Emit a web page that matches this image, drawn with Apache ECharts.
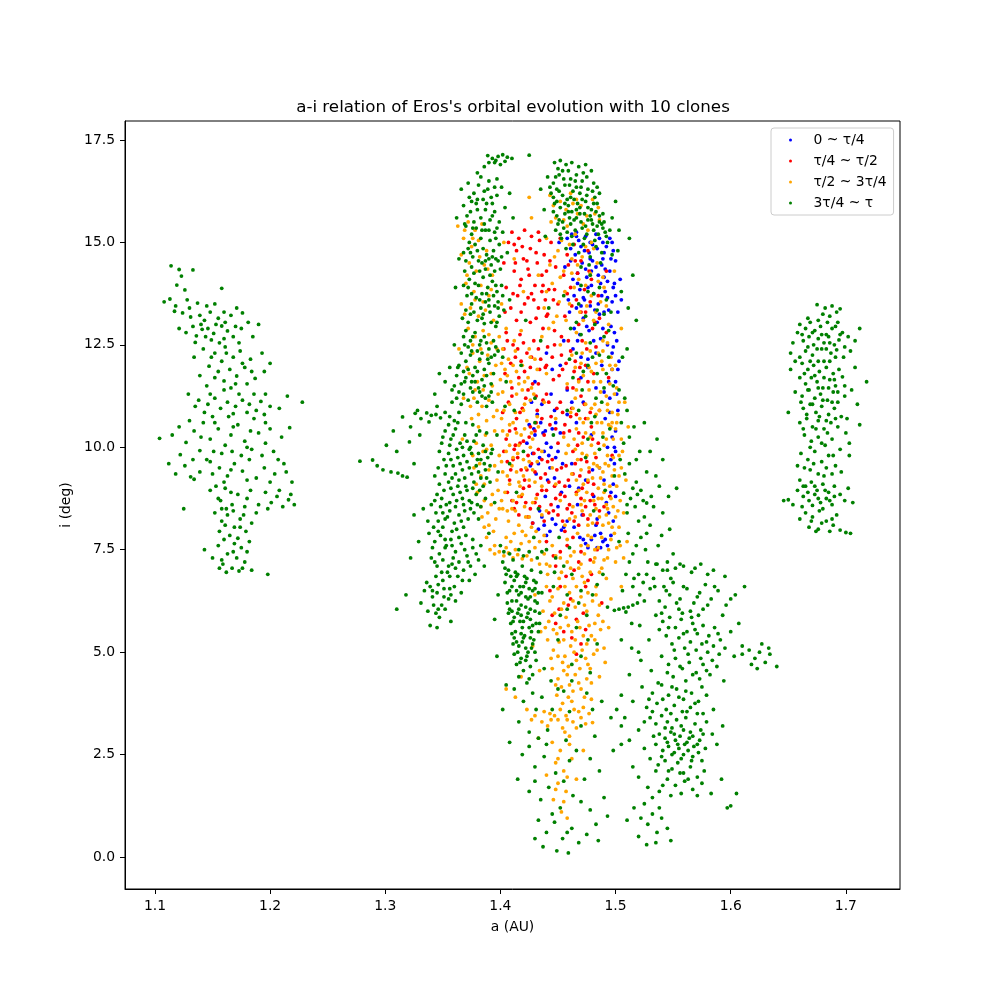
<!DOCTYPE html>
<html>
<head>
<meta charset="utf-8">
<script src="https://cdn.jsdelivr.net/npm/echarts@6/dist/echarts.min.js"></script>
<style>
  html, body { margin: 0; padding: 0; background: #fff; }
  #chart { width: 1000px; height: 1000px; }
</style>
</head>
<body>
<div id="chart"></div>
<script>
// legend labels, one per quarter of the integration time
const seriesNames = ['0 ~ τ/4', 'τ/4 ~ τ/2', 'τ/2 ~ 3τ/4', '3τ/4 ~ τ'];
const xTicks = [1.1, 1.2, 1.3, 1.4, 1.5, 1.6, 1.7];
const yTicks = [0, 2.5, 5, 7.5, 10, 12.5, 15, 17.5];

// [a (AU), i (deg)], grouped by region
const blueUpper = [[1.462,15.2],[1.468,15.05],[1.474,15.15],[1.48,14.95],[1.486,15.1],[1.492,14.9],[1.465,14.7],[1.471,14.5],[1.477,14.75],[1.483,14.4],[1.489,14.6],[1.495,14.3],[1.5,14.55],[1.463,14.1],[1.469,13.85],[1.475,14.15],[1.481,13.75],[1.487,14.0],[1.493,13.65],[1.498,13.9],[1.466,13.4],[1.472,13.15],[1.478,13.45],[1.484,13.05],[1.49,13.3],[1.496,12.95],[1.459,13.6],[1.456,14.4],[1.469,12.75],[1.481,12.6],[1.493,12.5],[1.502,13.3],[1.504,14.1],[1.451,15.0],[1.466,15.25],[1.478,14.6],[1.49,14.15],[1.497,15.0],[1.485,13.5],
  [1.458,15.1],[1.47,14.9],[1.483,15.2],[1.495,15.1],[1.461,14.55],[1.474,14.35],[1.488,14.45],[1.499,14.0],[1.467,14.0],[1.479,13.95],[1.491,13.8],[1.46,13.3],[1.473,13.6],[1.486,13.25],[1.497,13.55],[1.464,12.9],[1.477,12.85],[1.489,12.9],[1.501,12.6],[1.455,12.6],[1.466,15.15],[1.478,15.0],[1.489,15.0],[1.49,14.75],[1.496,14.6],[1.48,14.55],[1.485,14.2],[1.493,14.05],[1.472,13.65]];
const blueMiddle = [[1.44,12.3],[1.452,12.0],[1.463,12.4],[1.476,12.15],[1.488,12.0],[1.497,12.3],[1.43,11.6],[1.445,11.9],[1.458,11.4],[1.47,11.7],[1.483,11.45],[1.495,11.2],[1.425,10.55],[1.43,10.3],[1.435,10.6],[1.44,10.1],[1.445,10.45],[1.45,9.9],[1.428,9.85],[1.433,9.6],[1.438,9.9],[1.443,9.5],[1.448,9.75],[1.423,10.1],[1.436,11.05],[1.447,10.9],[1.466,10.6],[1.479,10.3],[1.491,10.7],[1.499,10.0],[1.462,9.6],[1.474,9.2],[1.486,9.5],[1.498,9.1],[1.453,8.9],[1.467,8.6],[1.481,8.8],[1.494,8.4],[1.5,11.6],[1.499,12.8],[1.497,11.9],[1.5,10.4],[1.496,9.7],[1.5,8.8],[1.503,12.1],[1.432,10.8],[1.441,9.2],
  [1.47,12.2],[1.483,12.3],[1.494,11.6],[1.472,11.1],[1.458,10.8],[1.444,11.3],[1.427,11.1],[1.437,10.35],[1.442,9.8],[1.452,10.35],[1.431,9.35],[1.447,9.25],[1.426,9.55],[1.439,8.8],[1.434,8.45],[1.46,9.05],[1.471,8.35],[1.484,8.25],[1.49,9.2],[1.496,8.9],[1.499,9.6],[1.502,10.9],[1.497,10.25],[1.493,10.0],[1.501,11.3]];
const blueLower = [[1.428,8.15],[1.433,8.0],[1.438,8.1],[1.443,7.95],[1.448,8.12],[1.453,7.98],[1.458,8.2],[1.469,7.8],[1.474,7.65],[1.479,7.75],[1.484,7.55],[1.489,7.7],[1.493,7.6],[1.487,7.9],[1.464,8.05],[1.496,7.85],[1.476,7.55],[1.482,7.85],[1.491,7.75],[1.445,8.25],[1.455,8.05],[1.44,7.85]];
const blueCoreExtra = [[1.461,14.85],[1.467,14.25],[1.473,14.8],[1.479,14.3],[1.484,14.85],[1.491,14.35],[1.498,14.8],[1.464,13.7],[1.47,13.45],[1.476,13.9],[1.482,13.35],[1.488,13.7],[1.494,13.35],[1.5,13.7],[1.467,12.6],[1.475,12.95],[1.487,12.65],[1.498,12.45],[1.476,11.95],[1.49,11.35],[1.462,11.1],[1.448,10.6],[1.434,9.75],[1.439,10.4],[1.429,10.45],[1.444,10.0],[1.454,9.6],[1.468,9.0],[1.48,9.45],[1.492,8.65],[1.498,8.2],[1.483,8.1],[1.472,7.75],[1.487,7.55],[1.45,8.55],[1.436,8.3],[1.5,9.9],[1.495,10.85],[1.502,11.9],[1.505,13.6]];

const redUpper = [[1.41,15.25],[1.416,15.1],[1.421,15.3],[1.427,15.15],[1.433,15.25],[1.414,14.8],[1.42,14.6],[1.426,14.85],[1.432,14.5],[1.438,14.7],[1.412,14.3],[1.418,14.1],[1.424,14.35],[1.43,13.95],[1.436,14.2],[1.442,13.85],[1.415,13.7],[1.421,13.5],[1.427,13.75],[1.433,13.4],[1.439,13.6],[1.405,13.9],[1.403,14.5],[1.444,15.0],[1.448,14.4],[1.452,15.1],[1.458,14.7],[1.464,14.95],[1.47,14.55],[1.476,14.8],[1.455,14.2],[1.461,13.9],[1.467,14.25],[1.473,13.85],[1.479,14.1],[1.485,13.7],[1.45,13.5],[1.456,13.2],[1.462,13.45],[1.468,13.0],[1.474,13.3],[1.48,12.9],[1.486,13.15],[1.453,12.7],[1.492,14.3],
  [1.407,15.0],[1.413,14.5],[1.419,14.9],[1.425,14.2],[1.431,14.75],[1.437,13.95],[1.443,14.55],[1.409,13.4],[1.417,13.95],[1.429,13.6],[1.441,13.25],[1.447,13.85],[1.459,14.45],[1.466,13.6],[1.478,13.55],[1.471,12.6],[1.483,12.45]];
const redMiddle = [[1.405,12.8],[1.411,12.5],[1.417,12.75],[1.423,12.3],[1.429,12.6],[1.435,12.15],[1.441,12.45],[1.447,12.85],[1.453,12.25],[1.459,12.6],[1.465,12.1],[1.414,13.1],[1.426,13.05],[1.44,13.2],[1.404,11.8],[1.41,11.45],[1.416,11.7],[1.422,11.2],[1.428,11.55],[1.434,11.9],[1.44,11.3],[1.446,11.65],[1.452,11.1],[1.458,11.45],[1.464,11.85],[1.47,11.25],[1.476,11.6],[1.402,10.85],[1.408,10.4],[1.414,10.7],[1.42,10.15],[1.426,10.5],[1.432,10.9],[1.438,10.3],[1.444,10.75],[1.45,10.1],[1.456,10.55],[1.462,10.95],[1.468,10.35],[1.474,10.7],[1.48,10.2],[1.403,9.9],[1.409,9.45],[1.415,9.75],[1.421,9.2],[1.427,9.6],[1.433,9.95],[1.439,9.35],[1.445,9.7],[1.451,9.15],[1.457,9.55],[1.463,9.9],[1.469,9.3],[1.475,9.65],[1.481,9.1],[1.406,8.9],[1.412,8.5],[1.418,8.8],[1.424,8.3],[1.43,8.65],[1.436,8.95],[1.442,8.4],[1.448,8.75],[1.454,8.2],[1.46,8.6],[1.466,8.9],[1.472,8.35],[1.478,8.7],[1.484,8.15],[1.49,8.55],[1.494,11.7],[1.497,9.8],[1.492,12.8],[1.486,10.9],[1.495,8.8],[1.418,12.1],[1.431,11.25],[1.425,9.05],[1.437,12.9],[1.413,10.05],
  [1.403,12.4],[1.409,12.05],[1.415,12.4],[1.421,11.85],[1.427,12.2],[1.433,11.55],[1.439,11.95],[1.445,12.2],[1.451,11.75],[1.457,12.05],[1.463,11.45],[1.469,11.95],[1.475,12.4],[1.481,11.8],[1.407,11.1],[1.413,10.45],[1.419,10.95],[1.425,10.25],[1.431,10.6],[1.437,11.15],[1.443,10.55],[1.449,10.95],[1.455,10.35],[1.461,10.75],[1.467,10.05],[1.473,11.05],[1.479,10.5],[1.485,10.1],[1.405,10.2],[1.411,9.7],[1.417,10.1],[1.423,9.45],[1.429,9.85],[1.435,9.25],[1.441,9.65],[1.447,9.05],[1.453,9.5],[1.459,9.2],[1.465,9.6],[1.471,9.0],[1.477,9.4],[1.483,9.75],[1.408,9.2],[1.414,8.65],[1.42,9.0],[1.426,8.5],[1.432,8.85],[1.438,8.2],[1.444,8.6],[1.45,8.35],[1.456,8.8],[1.462,8.4],[1.468,8.1],[1.474,8.55],[1.48,8.85],[1.486,8.45]];
const redLower = [[1.44,7.7],[1.452,7.45],[1.463,7.8],[1.448,7.1],[1.457,6.85],[1.468,7.2],[1.443,6.5],[1.461,6.3],[1.474,6.6],[1.451,6.05],[1.466,5.8],[1.479,6.9],[1.484,7.5],[1.455,5.5],[1.47,5.2],
  [1.446,7.35],[1.458,7.6],[1.47,7.45],[1.452,6.6],[1.464,7.0],[1.476,6.75],[1.445,5.9],[1.459,6.15],[1.472,5.95],[1.462,5.35],[1.474,5.55],[1.448,5.7],[1.466,4.95],[1.478,7.25],[1.456,7.95],[1.488,6.2]];
const redCoreExtra = [[1.404,13.3],[1.411,13.75],[1.418,13.3],[1.424,13.65],[1.431,13.15],[1.436,13.8],[1.412,14.95],[1.423,14.55],[1.434,15.05],[1.44,14.3],[1.446,13.6],[1.458,13.75],[1.465,14.55],[1.47,13.3],[1.477,14.3],[1.482,13.05],
  [1.406,12.6],[1.413,12.2],[1.42,12.55],[1.426,11.95],[1.433,12.4],[1.44,12.0],[1.447,12.5],[1.454,11.9],[1.461,12.35],[1.468,11.65],[1.474,12.0],[1.41,11.25],[1.417,10.85],[1.424,11.4],[1.43,10.4],[1.436,10.7],[1.442,11.1],[1.448,10.45],[1.454,10.85],[1.46,10.4],[1.466,10.8],[1.472,10.25],[1.478,10.85],[1.406,9.65],[1.412,9.95],[1.418,9.45],[1.424,9.8],[1.43,9.4],[1.436,9.7],[1.442,9.15],[1.449,9.45],[1.456,9.05],[1.463,9.35],[1.47,9.7],[1.476,9.15],[1.41,8.7],[1.416,8.35],[1.422,8.65],[1.428,8.15],[1.434,8.55],[1.44,8.95],[1.446,8.45],[1.452,8.85],[1.458,8.5],[1.464,8.2],[1.47,8.75],[1.476,8.25],[1.482,8.6]];

const orangeWest = [[1.372,15.5],[1.378,15.3],[1.384,15.45],[1.368,15.1],[1.375,14.9],[1.381,15.05],[1.388,14.8],[1.373,14.5],[1.379,14.3],[1.386,14.45],[1.393,14.2],[1.37,14.0],[1.377,13.8],[1.383,13.95],[1.39,13.7],[1.374,13.4],[1.381,13.2],[1.387,13.35],[1.394,13.1],[1.372,12.9],[1.378,12.7],[1.385,12.85],[1.392,12.55],[1.399,12.7],[1.376,12.3],[1.382,12.1],[1.389,12.25],[1.396,12.0],[1.373,11.8],[1.38,11.6],[1.386,11.75],[1.393,11.5],[1.4,11.65],[1.377,11.2],[1.384,11.0],[1.39,11.15],[1.397,10.9],[1.375,10.7],[1.381,10.5],[1.388,10.65],[1.395,10.4],[1.379,10.1],[1.385,9.9],[1.392,10.05],[1.399,9.8],[1.377,9.5],[1.383,9.3],[1.39,9.45],[1.397,9.2],[1.38,8.9],[1.386,8.7],[1.393,8.85],[1.384,8.3],[1.39,8.1],[1.396,8.25],[1.388,7.8],[1.395,7.6],[1.366,14.7],[1.364,12.4],[1.367,10.2],[1.401,13.5],[1.403,15.0],
  [1.391,7.5],[1.395,7.4],[1.399,7.45],[1.403,7.35],[1.407,7.42],[1.411,7.3],[1.415,7.38],[1.419,7.28],[1.423,7.35],[1.427,7.25],[1.405,7.55],[1.413,7.5],
  [1.369,15.3],[1.376,15.1],[1.382,14.65],[1.389,14.35],[1.371,14.2],[1.378,13.6],[1.385,13.55],[1.392,13.85],[1.369,13.25],[1.376,12.5],[1.383,12.4],[1.39,12.75],[1.397,12.4],[1.371,11.95],[1.378,11.4],[1.385,11.4],[1.392,11.8],[1.398,11.3],[1.374,11.0],[1.381,10.8],[1.387,10.3],[1.394,10.75],[1.376,9.8],[1.382,9.6],[1.388,9.95],[1.395,9.55],[1.379,9.1],[1.386,9.1],[1.392,8.6],[1.398,8.95],[1.383,8.55],[1.389,8.4],[1.394,7.95],[1.386,8.05],[1.399,8.5],[1.363,15.4],[1.366,13.5],[1.368,11.2]];
const orangeCore = [[1.405,12.9],[1.412,12.6],[1.418,12.85],[1.425,12.4],[1.436,12.7],[1.452,12.5],[1.466,12.8],[1.478,12.35],[1.489,12.6],[1.496,12.2],[1.43,12.15],[1.47,12.05],
  [1.404,11.9],[1.409,11.6],[1.414,11.85],[1.419,11.4],[1.424,11.7],[1.429,11.3],[1.44,11.8],[1.458,11.55],[1.465,11.2],[1.472,11.75],[1.477,11.4],[1.482,11.05],[1.487,11.6],[1.492,11.25],[1.497,11.9],[1.501,11.45],
  [1.403,10.9],[1.408,10.55],[1.413,10.85],[1.418,10.3],[1.423,10.65],[1.428,10.2],[1.433,10.5],[1.448,10.7],[1.455,10.25],[1.461,10.85],[1.466,10.45],[1.471,10.1],[1.476,10.7],[1.481,10.35],[1.486,10.9],[1.49,10.05],[1.494,10.55],[1.498,10.2],[1.502,10.8],
  [1.405,9.9],[1.41,9.55],[1.415,9.85],[1.42,9.3],[1.425,9.65],[1.43,9.15],[1.445,9.5],[1.457,9.85],[1.462,9.35],[1.467,9.7],[1.472,9.1],[1.477,9.5],[1.482,9.85],[1.487,9.25],[1.491,9.6],[1.495,9.05],[1.499,9.45],[1.503,9.8],
  [1.404,8.9],[1.41,8.5],[1.416,8.8],[1.422,8.3],[1.428,8.65],[1.44,8.45],[1.452,8.7],[1.46,8.25],[1.466,8.85],[1.471,8.45],[1.476,8.1],[1.481,8.7],[1.486,8.3],[1.49,8.9],[1.494,8.15],[1.498,8.55],[1.503,8.05],
  [1.412,7.9],[1.425,7.7],[1.438,7.85],[1.445,7.6],[1.452,7.3],[1.458,7.75],[1.464,7.45],[1.47,7.15],[1.476,7.6],[1.482,7.3],[1.488,7.05],[1.494,7.5],[1.5,7.2],[1.461,7.05],[1.434,7.15],
  [1.443,16.15],[1.452,16.0],[1.461,16.2],[1.47,15.9],[1.48,16.05],[1.448,15.6],[1.458,15.4],[1.467,15.7],[1.476,15.3],[1.486,15.55],[1.44,15.1],[1.45,14.8],[1.462,14.6],[1.474,14.9],[1.484,14.5],[1.433,14.2],[1.445,14.0],[1.456,13.8],[1.468,14.1],[1.479,13.7],[1.49,13.9],[1.438,13.4],[1.449,13.2],[1.46,13.5],[1.472,13.1],[1.483,13.3],[1.494,13.0],[1.427,15.6],[1.42,13.8],[1.499,14.3],[1.505,12.9],[1.425,16.1],[1.412,14.6],
  [1.506,9.9],[1.509,9.2],[1.507,8.4],[1.511,10.5],[1.505,6.6],[1.51,7.7],[1.508,11.1],[1.417,9.05],[1.421,11.05],[1.484,9.55],[1.479,10.95],[1.492,8.6],[1.459,10.05],[1.497,10.6],[1.488,12.1],
  [1.402,12.4],[1.407,12.15],[1.413,12.35],[1.419,12.0],[1.426,12.2],[1.432,11.9],[1.402,11.35],[1.408,11.05],[1.414,11.3],[1.42,10.9],[1.426,11.15],[1.432,10.75],[1.438,11.1],[1.402,10.4],[1.408,10.05],[1.414,10.35],[1.42,9.7],[1.426,10.0],[1.432,9.65],[1.436,9.9],[1.402,9.4],[1.408,9.1],[1.414,9.4],[1.419,8.85],[1.425,9.2],[1.431,8.75],[1.436,9.05],[1.402,8.5],[1.407,8.2],[1.413,8.45],[1.419,7.95],[1.425,8.3],[1.431,7.95],[1.436,8.35],[1.405,7.8],[1.418,7.65],[1.43,7.55],
  [1.462,12.25],[1.474,12.55],[1.485,12.3],[1.493,12.55],[1.5,12.0],[1.468,11.6],[1.479,11.85],[1.489,11.9],[1.495,11.55],[1.503,11.1],[1.463,10.95],[1.469,10.7],[1.474,10.35],[1.479,10.05],[1.484,10.6],[1.489,10.35],[1.493,10.9],[1.497,10.85],[1.5,10.45],[1.505,10.2],[1.465,9.95],[1.47,9.45],[1.475,9.8],[1.48,9.25],[1.485,9.0],[1.489,9.4],[1.493,9.8],[1.497,9.3],[1.501,9.05],[1.505,9.5],[1.463,8.55],[1.468,8.95],[1.473,8.7],[1.478,8.35],[1.483,8.5],[1.488,8.75],[1.492,8.35],[1.496,8.75],[1.5,8.3],[1.504,8.7],[1.467,7.9],[1.473,7.4],[1.479,7.8],[1.485,7.55],[1.49,7.25],[1.496,7.75],[1.501,7.55],[1.507,7.3],[1.456,8.1],[1.448,9.1],
  [1.446,15.9],[1.457,15.8],[1.466,16.05],[1.475,15.65],[1.485,15.85],[1.453,15.05],[1.465,15.2],[1.479,15.0],[1.443,14.45],[1.455,14.3],[1.467,14.45],[1.478,14.25],[1.489,14.15],[1.451,13.55],[1.464,13.9],[1.475,13.45],[1.487,13.55],[1.442,12.9],[1.457,13.1],[1.492,13.45]];
const orangeSouth = [[1.438,7.4],[1.443,7.1],[1.448,7.35],[1.453,6.95],[1.458,7.2],[1.463,6.8],[1.468,7.05],[1.473,6.7],[1.478,6.95],[1.483,6.6],[1.44,6.6],[1.445,6.35],[1.45,6.55],[1.455,6.2],[1.46,6.45],[1.465,6.1],[1.47,6.35],[1.475,6.0],[1.48,6.25],[1.485,5.9],[1.437,6.0],[1.442,5.75],[1.447,5.95],[1.452,5.6],[1.457,5.85],[1.462,5.5],[1.467,5.75],[1.472,5.4],[1.477,5.65],[1.482,5.3],[1.487,5.55],[1.441,5.3],[1.446,5.05],[1.451,5.25],[1.456,4.9],[1.461,5.15],[1.466,4.8],[1.471,5.05],[1.476,4.7],[1.481,4.95],[1.445,4.6],[1.45,4.35],[1.455,4.55],[1.46,4.2],[1.465,4.45],[1.47,4.1],[1.475,4.35],[1.449,3.95],[1.454,3.75],[1.459,3.9],[1.464,3.6],[1.492,6.8],[1.496,6.3],[1.49,5.1],[1.435,5.5],[1.43,6.4],[1.486,4.4],[1.479,3.85],
  [1.423,3.6],[1.43,3.45],[1.436,3.3],[1.443,3.5],[1.45,3.35],[1.457,3.45],[1.463,3.3],[1.47,3.4],[1.477,3.5],[1.48,3.28],[1.441,3.2],[1.454,3.15],[1.413,3.9],[1.405,4.1],[1.418,4.4],
  [1.433,2.9],[1.445,2.8],[1.452,2.6],[1.46,2.75],[1.448,2.3],[1.455,2.1],[1.462,2.4],[1.45,1.8],[1.457,1.6],[1.446,1.4],[1.453,1.1],[1.458,0.95],[1.466,1.9],[1.472,2.6],[1.44,2.0],
  [1.44,7.15],[1.451,6.8],[1.461,7.35],[1.471,6.85],[1.481,7.2],[1.443,6.25],[1.453,6.05],[1.463,6.25],[1.473,6.15],[1.483,6.4],[1.489,5.75],[1.439,5.6],[1.449,5.45],[1.459,5.65],[1.469,5.6],[1.479,5.4],[1.484,5.05],[1.444,4.85],[1.454,4.75],[1.464,5.0],[1.474,4.85],[1.448,4.2],[1.458,4.45],[1.468,4.25],[1.478,4.6],[1.452,3.6],[1.462,3.8],[1.472,3.65],[1.447,3.45],[1.466,3.15],[1.438,3.55],[1.427,3.35],[1.474,3.25],[1.456,3.05],[1.45,2.4],[1.458,1.95],[1.448,1.65],[1.455,1.35],[1.46,2.95],[1.434,4.55],[1.428,5.15],[1.494,5.6],[1.491,4.75],[1.486,6.95]];
const orangeCoreExtra = [[1.401,12.05],[1.406,11.75],[1.411,12.0],[1.416,11.55],[1.421,11.6],[1.427,11.45],[1.401,10.7],[1.406,10.3],[1.411,10.6],[1.416,10.05],[1.421,10.45],[1.427,10.35],[1.401,9.65],[1.406,9.3],[1.411,9.75],[1.416,9.15],[1.422,9.5],[1.428,9.45],[1.401,8.7],[1.406,8.45],[1.411,8.7],[1.416,8.1],[1.421,8.55],[1.427,8.05],[1.409,7.7],[1.422,7.85],[1.434,7.7],
  [1.465,11.95],[1.471,12.3],[1.477,11.95],[1.483,12.05],[1.489,12.35],[1.495,12.0],[1.466,11.4],[1.474,11.05],[1.481,11.6],[1.487,11.35],[1.493,11.05],[1.499,11.3],[1.464,10.2],[1.472,10.6],[1.478,10.25],[1.483,10.8],[1.488,10.6],[1.492,10.2],[1.496,10.5],[1.501,10.6],[1.466,9.2],[1.471,9.85],[1.476,9.2],[1.481,9.6],[1.486,9.5],[1.49,9.1],[1.494,9.55],[1.498,9.75],[1.503,9.3],[1.465,8.3],[1.47,8.6],[1.475,8.9],[1.48,8.15],[1.485,8.75],[1.489,8.1],[1.493,8.5],[1.497,8.05],[1.502,8.45],[1.47,7.6],[1.476,7.85],[1.482,7.5],[1.488,7.8],[1.493,7.3],[1.499,7.9],[1.504,7.6],
  [1.441,6.9],[1.456,6.6],[1.466,6.6],[1.476,6.45],[1.486,6.15],[1.446,5.55],[1.455,5.3],[1.465,5.3],[1.475,5.2],[1.482,5.7],[1.45,4.9],[1.459,4.65],[1.469,4.6],[1.479,4.25],[1.453,4.15],[1.463,4.05],[1.473,3.9],[1.458,3.35],[1.468,3.55],[1.444,3.35],
  [1.444,15.5],[1.455,15.55],[1.463,15.95],[1.472,15.45],[1.482,15.7],[1.447,14.65],[1.46,14.95],[1.471,14.65],[1.481,14.85],[1.44,13.8],[1.452,14.15],[1.462,14.25],[1.474,13.95],[1.485,14.05],[1.446,13.05],[1.469,13.3],[1.481,13.1]];

const greenWest = [[1.114,14.43],[1.121,14.34],[1.133,14.33],[1.123,14.18],[1.119,13.96],[1.126,13.84],[1.158,13.88],[1.108,13.55],[1.113,13.62],
  [1.128,13.6],[1.137,13.52],[1.145,13.45],[1.152,13.5],[1.117,13.32],[1.124,13.28],[1.131,13.18],[1.139,13.22],[1.143,13.1],[1.148,13.3],[1.155,13.15],[1.161,13.05],[1.166,13.22],[1.171,13.4],[1.176,13.28],[1.133,12.95],[1.141,12.88],[1.127,12.8],[1.136,12.72],[1.146,12.9],[1.151,12.78],[1.158,12.96],[1.163,12.84],[1.149,12.62],[1.168,12.7],[1.175,12.9],[1.181,13.05],[1.121,12.9],[1.135,12.56],[1.156,12.55],[1.185,12.7],[1.19,13.0],
  [1.142,12.4],[1.152,12.3],[1.161,12.45],[1.168,12.2],[1.174,12.35],[1.158,12.1],[1.147,11.98],[1.165,11.9],[1.178,11.95],[1.183,12.15],[1.139,11.75],[1.152,11.7],[1.16,11.62],[1.171,11.74],[1.18,11.55],[1.187,11.68],[1.195,11.85],[1.166,11.45],[1.145,11.5],[1.193,12.3],[1.2,12.05],[1.134,12.2],
  [1.129,11.3],[1.138,11.15],[1.146,11.05],[1.152,11.2],[1.157,10.95],[1.163,11.1],[1.17,11.0],[1.176,11.15],[1.182,11.05],[1.188,10.9],[1.192,11.12],[1.2,11.0],[1.143,10.85],[1.168,10.82],[1.208,10.95],[1.228,11.1],[1.215,11.25],[1.135,11.0],
  [1.104,10.22],[1.115,10.3],[1.121,10.5],[1.127,10.12],[1.134,10.4],[1.142,10.6],[1.148,10.2],[1.155,10.45],[1.161,10.05],[1.166,10.3],[1.172,10.55],[1.178,10.15],[1.184,9.95],[1.19,10.35],[1.196,10.1],[1.203,9.9],[1.21,10.25],[1.217,10.48],[1.158,9.85],[1.139,9.92],[1.122,9.82],[1.175,9.8],[1.196,10.6],[1.186,10.7],
  [1.112,9.6],[1.118,9.35],[1.126,9.55],[1.131,9.28],[1.134,9.22],[1.139,9.4],[1.148,9.65],[1.156,9.5],[1.163,9.3],[1.169,9.6],[1.176,9.42],[1.182,9.7],[1.188,9.25],[1.195,9.5],[1.204,9.35],[1.212,9.6],[1.219,9.15],[1.16,9.15],[1.145,9.7],
  [1.148,8.95],[1.155,8.75],[1.161,9.0],[1.167,8.6],[1.172,8.85],[1.178,8.55],[1.183,8.95],[1.196,8.9],[1.201,8.65],[1.206,8.8],[1.211,8.55],[1.216,8.72],[1.221,8.6],[1.198,8.5],[1.158,8.5],[1.125,8.5],
  [1.152,8.4],[1.158,8.2],[1.163,8.35],[1.169,8.05],[1.174,8.25],[1.179,7.95],[1.184,8.15],[1.165,7.85],[1.156,7.95],[1.172,7.78],[1.188,8.4],[1.161,8.1],
  [1.143,7.5],[1.15,7.3],[1.155,7.6],[1.159,7.15],[1.163,7.4],[1.167,7.05],[1.171,7.3],[1.175,7.55],[1.178,7.2],[1.184,7.0],[1.169,7.65],[1.156,7.05],[1.162,6.95],[1.198,6.9],[1.18,7.45],
  [1.118,13.45],[1.13,13.4],[1.14,13.0],[1.153,13.0],[1.16,13.3],[1.17,12.95],[1.144,12.7],[1.16,12.65],[1.173,12.55],[1.149,12.2],[1.162,12.3],[1.176,12.05],[1.155,11.85],[1.17,11.55],[1.184,11.85],[1.148,11.3],[1.16,11.4],[1.173,11.3],[1.186,11.3],[1.196,11.3],[1.15,10.75],[1.164,10.75],[1.18,10.85],[1.195,10.8],[1.13,10.65],[1.14,10.25],[1.152,10.6],[1.168,10.5],[1.183,10.4],[1.2,10.45],[1.133,9.7],[1.151,9.9],[1.167,9.9],[1.18,10.0],[1.193,9.8],[1.207,9.7],[1.15,9.35],[1.166,9.45],[1.18,9.2],[1.2,9.15],[1.214,9.4],[1.153,9.05],[1.166,8.9],[1.18,8.75],[1.208,8.95],[1.218,8.85],[1.19,8.6],[1.157,8.7],[1.162,8.5],[1.177,8.35],[1.168,8.45],[1.174,8.05],[1.182,7.7],[1.16,7.75],[1.168,7.45],[1.176,7.05],[1.158,7.25],[1.173,6.98]];
const greenEast = [[1.675,13.48],[1.682,13.4],[1.688,13.45],[1.692,13.3],[1.68,13.25],[1.695,13.38],[1.686,13.2],
  [1.66,13.0],[1.665,12.9],[1.669,13.05],[1.673,12.85],[1.678,12.95],[1.683,12.75],[1.688,12.9],[1.693,13.05],[1.697,12.8],[1.663,12.6],[1.668,12.7],[1.672,12.5],[1.676,12.65],[1.681,12.55],[1.685,12.7],[1.69,12.5],[1.694,12.62],[1.699,12.45],[1.702,12.7],[1.658,12.8],[1.654,12.55],[1.665,12.35],[1.671,12.25],[1.679,12.4],[1.687,12.3],[1.691,12.2],[1.681,12.1],[1.704,12.35],[1.712,12.9],[1.708,12.6],[1.652,12.3],
  [1.662,12.05],[1.667,11.9],[1.672,12.0],[1.677,11.85],[1.683,11.95],[1.689,11.8],[1.694,11.9],[1.66,11.7],[1.665,11.55],[1.67,11.7],[1.675,11.6],[1.68,11.45],[1.686,11.65],[1.691,11.5],[1.697,11.72],[1.656,11.35],[1.662,11.25],[1.668,11.4],[1.673,11.2],[1.678,11.3],[1.684,11.15],[1.689,11.35],[1.693,11.1],[1.699,11.25],[1.705,11.4],[1.663,10.95],[1.669,11.05],[1.674,10.85],[1.679,11.0],[1.685,10.8],[1.69,10.95],[1.696,10.75],[1.66,10.6],[1.666,10.7],[1.671,10.5],[1.676,10.65],[1.681,10.45],[1.687,10.6],[1.693,10.5],[1.701,10.7],[1.71,11.05],[1.718,11.6],[1.652,11.9],[1.65,10.85],[1.708,11.95],[1.712,10.55],
  [1.664,10.3],[1.67,10.15],[1.676,10.25],[1.682,10.05],[1.688,10.2],[1.695,9.95],[1.661,9.85],[1.667,9.7],[1.673,9.9],[1.679,9.65],[1.685,9.8],[1.691,9.55],[1.669,9.45],[1.676,9.35],[1.683,9.5],[1.696,9.4],[1.658,9.55],[1.703,9.8],[1.7,10.35],
  [1.66,9.2],[1.665,9.05],[1.67,9.15],[1.675,8.95],[1.68,9.1],[1.685,8.9],[1.69,9.05],[1.695,8.85],[1.663,8.8],[1.668,8.7],[1.673,8.85],[1.678,8.65],[1.683,8.75],[1.688,8.6],[1.658,8.95],[1.65,8.72],[1.646,8.7],[1.654,8.6],[1.699,8.7],[1.706,8.65],[1.702,9.0],[1.671,8.58],
  [1.665,8.4],[1.671,8.3],[1.677,8.45],[1.683,8.2],[1.689,8.1],[1.695,7.98],[1.7,7.92],[1.704,7.9],[1.668,8.05],[1.676,8.0],[1.686,7.95],[1.66,8.25],[1.692,8.35],
  [1.667,13.15],[1.676,13.1],[1.684,13.05],[1.691,12.95],[1.662,12.75],[1.671,12.8],[1.679,12.75],[1.686,12.55],[1.695,12.75],[1.667,12.45],[1.675,12.4],[1.683,12.4],[1.692,12.38],[1.698,12.2],[1.66,12.2],[1.669,12.1],[1.676,12.1],[1.686,12.1],[1.664,11.8],[1.673,11.75],[1.681,11.7],[1.69,11.65],[1.667,11.4],[1.676,11.45],[1.685,11.45],[1.693,11.35],[1.661,11.1],[1.671,11.05],[1.68,11.15],[1.688,11.1],[1.666,10.8],[1.677,10.75],[1.683,10.65],[1.691,10.7],[1.663,10.45],[1.674,10.45],[1.684,10.35],[1.669,10.0],[1.679,10.1],[1.689,9.8],[1.664,9.5],[1.672,9.6],[1.681,9.3],[1.688,9.35],[1.663,9.05],[1.673,9.05],[1.682,8.95],[1.69,8.8],[1.667,8.9],[1.676,8.75],[1.686,8.7],[1.662,8.55],[1.68,8.5],[1.67,8.2],[1.679,8.15],[1.688,8.25],[1.674,7.95],[1.656,12.1],[1.699,11.5],[1.703,10.1]];
const greenSouthEast = [[1.536,7.15],[1.545,7.2],[1.552,7.05],[1.559,7.1],[1.566,6.95],[1.574,7.15],[1.585,7.0],[1.595,6.85],[1.527,6.9],[1.548,6.8],
  [1.515,6.6],[1.521,6.4],[1.53,6.55],[1.538,6.25],[1.544,6.5],[1.55,6.7],[1.556,6.3],[1.562,6.55],[1.568,6.2],[1.573,6.45],[1.578,6.65],[1.583,6.3],[1.589,6.5],[1.596,6.15],[1.604,6.4],[1.612,6.6],[1.555,6.05],[1.565,6.0],[1.576,6.05],[1.543,6.1],
  [1.499,6.02],[1.503,6.05],[1.507,6.08],[1.511,6.1],[1.515,6.15],[1.519,6.2],[1.525,6.25],[1.509,5.98],
  [1.535,5.9],[1.541,5.75],[1.547,5.85],[1.552,5.6],[1.557,5.8],[1.562,5.5],[1.567,5.7],[1.571,5.45],[1.576,5.65],[1.581,5.4],[1.586,5.6],[1.591,5.3],[1.544,5.4],[1.549,5.2],[1.555,5.35],[1.56,5.1],[1.565,5.25],[1.57,5.05],[1.575,5.2],[1.58,5.0],[1.585,5.15],[1.59,4.95],[1.595,5.1],[1.538,5.55],[1.529,5.3],[1.521,5.65],[1.514,5.1],[1.6,5.5],[1.607,5.7],[1.558,5.95],[1.572,5.9],
  [1.61,5.15],[1.616,5.05],[1.621,4.85],[1.625,5.0],[1.63,4.75],[1.634,4.95],[1.64,4.65],[1.618,4.7],[1.627,5.2],[1.603,4.9],
  [1.54,4.9],[1.546,4.7],[1.552,4.85],[1.558,4.6],[1.564,4.75],[1.57,4.5],[1.576,4.7],[1.582,4.45],[1.588,4.65],[1.55,4.4],[1.561,4.3],[1.573,4.35],[1.531,4.55],[1.522,4.8],[1.594,4.3],[1.512,4.45],
  [1.523,4.15],[1.532,4.0],[1.54,4.2],[1.546,3.95],[1.553,4.1],[1.559,3.85],[1.566,4.0],[1.572,3.8],[1.579,3.95],[1.515,3.8],[1.527,3.65],[1.536,3.75],[1.544,3.6],[1.551,3.7],[1.558,3.55],[1.565,3.65],[1.571,3.5],[1.585,3.6],[1.505,3.95],
  [1.53,3.4],[1.535,3.25],[1.54,3.45],[1.545,3.3],[1.549,3.15],[1.553,3.35],[1.557,3.2],[1.561,3.4],[1.565,3.05],[1.569,3.25],[1.574,3.1],[1.579,3.3],[1.584,3.0],[1.538,3.0],[1.543,2.9],[1.548,3.05],[1.552,2.85],[1.556,2.95],[1.56,2.75],[1.564,2.9],[1.568,2.7],[1.573,2.85],[1.578,2.65],[1.535,2.75],[1.541,2.6],[1.546,2.7],[1.551,2.55],[1.555,2.65],[1.559,2.5],[1.563,2.6],[1.567,2.45],[1.572,2.55],[1.52,3.1],[1.512,2.85],[1.505,3.2],[1.525,2.65],[1.588,2.75],[1.593,3.2],
  [1.53,2.4],[1.537,2.25],[1.543,2.35],[1.549,2.15],[1.554,2.3],[1.559,2.05],[1.565,2.2],[1.571,1.95],[1.577,2.1],[1.545,1.9],[1.552,1.75],[1.56,1.85],[1.567,1.65],[1.575,1.8],[1.538,1.6],[1.548,1.5],[1.583,1.55],[1.592,1.9],[1.52,1.95],[1.515,2.2],[1.6,1.25],[1.605,1.55],[1.597,1.2],[1.528,1.7],
  [1.525,1.3],[1.532,1.05],[1.528,0.8],[1.536,0.6],[1.54,0.95],[1.545,0.7],[1.52,0.5],[1.527,0.3],[1.535,0.35],[1.548,0.4],[1.516,1.2],[1.51,0.9],[1.501,3.6],[1.508,3.4],
  [1.541,7.0],[1.556,7.15],[1.569,7.05],[1.58,6.9],[1.534,6.6],[1.547,6.4],[1.559,6.6],[1.571,6.35],[1.586,6.6],[1.6,6.3],[1.54,5.95],[1.553,6.2],[1.566,5.85],[1.58,6.15],[1.593,5.9],[1.546,5.6],[1.559,5.45],[1.569,5.55],[1.579,5.25],[1.589,5.45],[1.551,5.05],[1.563,4.95],[1.574,4.85],[1.584,4.8],[1.545,4.5],[1.556,4.65],[1.567,4.45],[1.579,4.55],[1.537,4.25],[1.549,4.15],[1.561,4.05],[1.575,4.15],[1.529,3.85],[1.541,3.85],[1.555,3.9],[1.569,3.75],[1.532,3.55],[1.548,3.5],[1.562,3.55],[1.576,3.5],[1.525,3.3],[1.543,3.15],[1.551,3.0],[1.559,3.1],[1.567,2.95],[1.576,3.0],[1.533,2.95],[1.545,2.8],[1.554,2.75],[1.562,2.8],[1.571,2.75],[1.54,2.45],[1.549,2.5],[1.557,2.4],[1.566,2.35],[1.575,2.35],[1.535,2.1],[1.546,2.1],[1.556,2.05],[1.563,1.9],[1.541,1.75],[1.557,1.55],[1.571,1.5],[1.532,1.45],[1.522,0.95],[1.538,1.2],[1.61,4.95],[1.623,4.6],[1.633,5.1],[1.505,2.75]];
const greenWestColumn = [[1.389,17.12],[1.393,17.05],[1.398,17.1],[1.402,17.14],[1.406,17.08],[1.395,16.95],[1.386,16.85],[1.4,16.9],[1.425,17.13],[1.41,17.05],[1.38,16.7],
  [1.372,16.45],[1.377,16.2],[1.381,16.4],[1.385,16.05],[1.389,16.3],[1.393,15.95],[1.397,16.15],[1.368,15.9],[1.374,15.75],[1.379,15.95],[1.383,15.6],[1.387,15.8],[1.391,15.55],[1.395,15.75],[1.399,15.5],[1.404,15.85],[1.366,16.3],[1.362,15.6],[1.408,16.2],[1.411,15.6],
  [1.37,15.4],[1.375,15.2],[1.379,15.35],[1.383,15.1],[1.387,15.3],[1.391,15.05],[1.395,15.25],[1.399,14.95],[1.372,14.85],[1.376,14.65],[1.38,14.8],[1.384,14.5],[1.388,14.7],[1.392,14.45],[1.396,14.6],[1.4,14.35],[1.369,14.3],[1.373,14.1],[1.377,14.25],[1.381,13.95],[1.385,14.15],[1.389,13.9],[1.393,14.05],[1.397,13.8],[1.401,13.95],[1.371,13.7],[1.375,13.5],[1.379,13.65],[1.383,13.4],[1.387,13.55],[1.391,13.3],[1.395,13.45],[1.399,13.2],[1.403,13.35],[1.367,13.15],[1.364,14.6],[1.361,13.9],[1.406,14.75],[1.408,13.6],[1.372,13.05],[1.386,13.02],[1.396,12.95],
  [1.37,12.85],[1.374,12.6],[1.378,12.8],[1.382,12.5],[1.386,12.7],[1.39,12.4],[1.394,12.6],[1.398,12.35],[1.366,12.3],[1.37,12.1],[1.374,12.25],[1.378,11.95],[1.382,12.15],[1.386,11.9],[1.39,12.05],[1.394,11.8],[1.362,11.75],[1.366,11.55],[1.37,11.7],[1.374,11.45],[1.378,11.6],[1.382,11.35],[1.386,11.5],[1.39,11.25],[1.358,11.4],[1.362,11.2],[1.366,11.05],[1.352,11.6],[1.356,11.95],[1.36,12.5],[1.402,12.2],[1.405,11.6],[1.347,11.8],[1.343,11.3],
  [1.336,10.84],[1.34,10.78],[1.344,10.8],[1.348,10.72],[1.352,10.85],[1.356,10.75],[1.36,10.65],[1.338,10.62],[1.331,10.7],[1.328,10.9],[1.345,11.0],
  [1.352,10.4],[1.357,10.2],[1.361,10.45],[1.365,10.1],[1.369,10.3],[1.373,9.95],[1.377,10.15],[1.381,9.85],[1.385,10.05],[1.389,9.75],[1.393,9.95],[1.347,9.9],[1.351,9.7],[1.355,9.85],[1.359,9.55],[1.363,9.75],[1.367,9.45],[1.371,9.65],[1.375,9.35],[1.379,9.55],[1.383,9.25],[1.387,9.45],[1.391,9.15],[1.343,9.3],[1.347,9.1],[1.351,8.95],[1.355,9.15],[1.359,8.85],[1.363,9.05],[1.367,8.75],[1.371,8.95],[1.375,8.65],[1.379,8.85],[1.383,8.55],[1.387,8.75],[1.34,8.6],[1.344,8.4],[1.348,8.55],[1.352,8.25],[1.356,8.45],[1.36,8.15],[1.364,8.35],[1.368,8.05],[1.372,8.25],[1.337,8.2],[1.333,8.5],[1.325,8.35],[1.395,8.65],[1.398,9.4],[1.397,10.3],
  [1.338,7.9],[1.343,7.7],[1.348,7.85],[1.352,7.55],[1.357,7.75],[1.361,7.45],[1.366,7.65],[1.371,7.35],[1.376,7.55],[1.381,7.25],[1.386,7.1],[1.34,7.3],[1.345,7.1],[1.35,7.25],[1.354,6.95],[1.358,7.15],[1.363,6.85],[1.368,7.0],[1.373,6.75],[1.378,6.9],[1.336,6.7],[1.341,6.5],[1.346,6.65],[1.351,6.35],[1.356,6.55],[1.361,6.25],[1.366,6.45],[1.331,6.2],[1.337,6.0],[1.342,6.15],[1.347,5.85],[1.352,6.05],[1.357,5.75],[1.339,5.65],[1.345,5.6],[1.322,7.3],[1.329,7.7],[1.31,6.05],[1.318,6.4],
  [1.278,9.66],[1.289,9.69],[1.298,9.45],[1.305,9.4],[1.311,9.37],[1.315,9.3],[1.319,9.27],[1.301,10.05],[1.321,10.13],[1.315,10.74],[1.326,10.83],[1.31,9.9],[1.325,9.6],[1.33,10.3],[1.322,10.5],[1.307,10.4],[1.293,9.55],
  [1.39,16.95],[1.396,17.0],[1.404,16.98],[1.383,16.6],[1.39,16.5],[1.397,16.55],[1.375,16.0],[1.386,16.25],[1.392,16.1],[1.371,15.65],[1.377,15.5],[1.38,15.8],[1.386,15.45],[1.393,15.65],[1.397,15.35],[1.373,15.0],[1.378,14.95],[1.385,14.85],[1.39,14.6],[1.394,14.8],[1.398,14.55],[1.37,14.55],[1.375,14.4],[1.382,14.3],[1.387,14.35],[1.391,14.2],[1.395,14.3],[1.372,13.9],[1.378,14.0],[1.384,13.75],[1.39,13.6],[1.394,13.7],[1.398,13.55],[1.374,13.25],[1.38,13.1],[1.385,13.25],[1.392,13.05],[1.397,13.05],[1.368,12.7],[1.372,12.45],[1.376,12.7],[1.38,12.35],[1.384,12.3],[1.388,12.55],[1.392,12.2],[1.396,12.45],[1.364,12.0],[1.368,11.85],[1.372,11.9],[1.376,11.75],[1.38,11.85],[1.384,11.65],[1.388,11.75],[1.392,11.55],[1.36,11.5],[1.364,11.35],[1.368,11.3],[1.372,11.15],[1.376,11.35],[1.38,11.1],[1.384,11.25],[1.388,11.0],[1.392,11.35],[1.355,10.55],[1.359,10.3],[1.363,10.6],[1.367,10.0],[1.371,10.15],[1.375,9.85],[1.379,10.3],[1.383,9.7],[1.387,9.9],[1.391,9.55],[1.349,10.1],[1.353,9.55],[1.357,9.7],[1.361,9.35],[1.365,9.6],[1.369,9.25],[1.373,9.5],[1.377,9.15],[1.381,9.4],[1.385,9.05],[1.345,8.85],[1.349,8.75],[1.353,8.6],[1.357,9.0],[1.361,8.55],[1.365,8.9],[1.369,8.45],[1.373,8.7],[1.377,8.4],[1.381,8.25],[1.342,8.05],[1.346,8.2],[1.35,8.05],[1.354,8.3],[1.358,7.95],[1.362,8.0],[1.366,8.2],[1.341,7.55],[1.347,7.4],[1.353,7.6],[1.359,7.3],[1.364,7.2],[1.369,7.5],[1.374,7.1],[1.379,7.4],[1.344,6.85],[1.35,6.75],[1.356,6.85],[1.36,6.6],[1.349,6.15],[1.355,6.3],[1.341,6.35],[1.344,5.95],[1.334,6.5],[1.383,7.6],[1.39,7.9]];
const greenEastColumn = [[1.447,16.95],[1.452,17.0],[1.457,16.9],[1.462,16.95],[1.468,16.85],[1.474,16.9],[1.479,16.75],[1.441,16.6],[1.446,16.45],[1.451,16.65],[1.456,16.4],[1.461,16.55],[1.466,16.35],[1.471,16.5],[1.476,16.3],[1.481,16.45],[1.486,16.2],[1.444,16.2],[1.449,16.0],[1.454,16.15],[1.459,15.9],[1.464,16.05],[1.469,15.85],[1.474,16.0],[1.479,15.8],[1.484,15.95],[1.489,15.7],[1.446,15.75],[1.451,15.55],[1.456,15.7],[1.461,15.45],[1.466,15.6],[1.471,15.35],[1.476,15.55],[1.481,15.3],[1.486,15.5],[1.491,15.25],[1.448,15.3],[1.453,15.1],[1.458,15.25],[1.463,14.95],[1.473,15.1],[1.483,14.9],[1.493,15.0],[1.438,15.8],[1.435,16.3],[1.497,15.6],[1.502,14.8],[1.5,16.0],[1.439,15.15],
  [1.47,14.4],[1.478,14.2],[1.486,13.9],[1.492,13.6],[1.468,13.5],[1.474,13.2],[1.482,13.0],[1.49,12.7],[1.461,12.9],[1.455,13.7],[1.442,13.4],[1.435,12.6],[1.466,12.3],[1.476,12.0],[1.484,11.8],[1.494,12.2],[1.471,11.4],[1.488,11.1],[1.498,11.5],[1.463,11.7],[1.458,10.9],[1.479,10.6],[1.446,10.3],[1.43,11.2],[1.418,12.0],[1.422,13.1],[1.412,10.9],[1.496,13.3],[1.505,13.8],[1.51,12.4],[1.515,14.2],[1.508,11.2],[1.404,11.0],[1.408,9.6],[1.414,8.9],[1.512,15.1],[1.518,13.1],
  [1.503,11.4],[1.51,10.9],[1.516,10.5],[1.507,10.1],[1.521,9.9],[1.512,9.6],[1.527,9.4],[1.518,9.15],[1.507,8.88],[1.513,8.75],[1.519,8.85],[1.524,8.7],[1.527,8.64],[1.51,8.6],[1.531,8.8],[1.535,9.3],[1.541,8.4],[1.53,8.1],[1.522,7.8],[1.537,7.6],[1.515,7.4],[1.528,7.2],[1.545,7.0],[1.533,6.8],[1.52,6.9],[1.55,7.4],[1.511,7.9],[1.541,9.7],[1.547,8.0],[1.536,10.2],[1.525,10.6],[1.553,9.0],[1.506,6.5],[1.514,5.7],[1.505,5.3],[1.52,5.0],
  [1.45,16.8],[1.459,16.75],[1.466,16.65],[1.472,16.7],[1.443,16.35],[1.449,16.3],[1.455,16.55],[1.463,16.25],[1.469,16.2],[1.475,16.15],[1.482,16.1],[1.447,15.95],[1.452,15.85],[1.458,16.05],[1.462,15.75],[1.467,15.95],[1.473,15.7],[1.478,15.65],[1.483,15.75],[1.488,15.45],[1.45,15.45],[1.455,15.35],[1.46,15.6],[1.465,15.3],[1.47,15.5],[1.475,15.2],[1.48,15.45],[1.485,15.2],[1.49,15.5],[1.495,15.3],[1.457,14.85],[1.468,14.75],[1.478,14.65],[1.488,14.75],[1.497,14.7],[1.476,13.8],[1.484,13.35],[1.494,12.85],[1.47,12.75],[1.48,12.2],[1.46,12.15],[1.49,11.45],[1.468,10.9],[1.482,10.75],[1.495,10.45],[1.486,9.95],[1.474,9.75],[1.499,9.3],[1.491,8.95],[1.481,8.45],[1.43,10.6],[1.42,9.9],[1.433,8.5],
  [1.505,10.6],[1.512,10.25],[1.518,9.7],[1.508,9.35],[1.515,9.0],[1.522,8.95],[1.51,8.4],[1.517,8.55],[1.525,8.3],[1.533,8.55],[1.52,8.2],[1.527,7.9],[1.54,7.85],[1.518,7.6],[1.526,7.5],[1.512,7.2],[1.535,7.15],[1.524,6.7],[1.542,6.6],[1.516,6.8],[1.53,9.9],[1.538,9.05],[1.546,8.8],[1.504,9.7],[1.503,7.7],[1.509,6.9],[1.506,12.2],[1.511,13.4],[1.503,15.3]];
const greenSouth = [[1.402,7.2],[1.407,7.0],[1.411,7.25],[1.415,6.9],[1.419,7.1],[1.423,6.8],[1.427,7.0],[1.431,6.7],[1.435,6.95],[1.404,6.7],[1.408,6.5],[1.412,6.75],[1.416,6.4],[1.42,6.6],[1.424,6.3],[1.428,6.5],[1.432,6.2],[1.436,6.45],[1.406,6.2],[1.41,6.0],[1.414,6.25],[1.418,5.9],[1.422,6.1],[1.426,5.8],[1.43,6.0],[1.434,5.7],[1.409,5.7],[1.413,5.5],[1.417,5.75],[1.421,5.4],[1.425,5.6],[1.429,5.3],[1.433,5.5],[1.411,5.2],[1.415,5.0],[1.419,5.25],[1.423,4.9],[1.427,5.1],[1.431,4.8],[1.414,4.7],[1.42,4.55],[1.426,4.65],[1.44,7.5],[1.448,7.3],[1.455,7.1],[1.462,6.9],[1.446,6.6],[1.458,6.4],[1.468,6.2],[1.452,5.9],[1.466,5.6],[1.475,5.9],[1.48,6.4],[1.484,5.2],[1.47,4.9],[1.478,4.5],[1.45,5.3],[1.438,4.6],[1.444,4.3],[1.489,6.9],[1.493,6.1],[1.398,6.4],[1.395,5.8],[1.4,7.6],[1.416,7.5],[1.429,7.8],[1.436,7.45],[1.451,7.8],[1.397,4.9],[1.405,4.2],
  [1.412,4.1],[1.42,3.8],[1.428,4.0],[1.436,3.9],[1.45,4.1],[1.462,4.3],[1.475,4.0],[1.488,3.8],[1.416,3.3],[1.425,3.05],[1.433,2.9],[1.441,3.1],[1.457,2.85],[1.47,3.2],[1.482,2.95],[1.496,3.4],[1.419,2.5],[1.43,2.2],[1.438,2.45],[1.448,2.05],[1.46,2.35],[1.473,1.9],[1.486,2.1],[1.498,2.6],[1.425,1.6],[1.435,1.4],[1.442,1.7],[1.452,1.2],[1.463,1.5],[1.478,1.15],[1.49,1.45],[1.433,0.9],[1.44,0.6],[1.447,0.85],[1.454,0.45],[1.462,0.7],[1.468,0.35],[1.437,0.25],[1.475,0.55],[1.449,0.15],[1.483,0.8],[1.459,0.1],[1.408,2.8],[1.402,3.6],[1.415,1.9],[1.493,1.0],[1.485,0.4],
  [1.404,7.05],[1.409,6.85],[1.413,6.95],[1.417,6.6],[1.421,6.85],[1.425,6.55],[1.429,6.75],[1.433,6.45],[1.406,6.45],[1.41,6.25],[1.414,6.5],[1.418,6.15],[1.422,6.35],[1.426,6.05],[1.43,6.25],[1.434,5.95],[1.407,5.95],[1.411,5.75],[1.415,5.95],[1.419,5.6],[1.423,5.85],[1.427,5.5],[1.431,5.7],[1.41,5.45],[1.414,5.25],[1.418,5.45],[1.422,5.1],[1.426,5.35],[1.43,5.0],[1.412,4.95],[1.417,4.75],[1.422,4.8],[1.428,4.45],[1.416,4.4],[1.403,7.45],[1.408,7.4],[1.42,7.35],[1.425,7.45],[1.432,7.3],[1.447,6.95],[1.46,7.55],[1.458,6.05],[1.47,6.5],[1.484,6.65],[1.476,5.3],[1.462,4.7],[1.455,4.05],[1.48,3.6],[1.431,3.6],[1.423,4.25],[1.445,3.6],[1.46,3.55],[1.425,2.7],[1.44,2.75],[1.466,2.6],[1.478,2.4],[1.455,1.85],[1.43,1.85],[1.47,1.35],[1.445,1.05],[1.458,0.6],[1.43,0.45]];
const greenCoreExtra = [[1.373,16.1],[1.38,16.05],[1.388,15.95],[1.395,16.35],[1.401,16.35],[1.369,15.45],[1.376,15.35],[1.384,15.3],[1.39,15.3],[1.396,15.1],[1.402,15.25],[1.368,14.75],[1.374,14.75],[1.381,14.55],[1.387,14.55],[1.393,14.65],[1.401,14.65],[1.368,13.95],[1.375,13.75],[1.382,13.6],[1.388,13.75],[1.396,13.95],[1.402,13.7],[1.37,13.35],[1.377,13.3],[1.384,13.15],[1.39,13.45],[1.398,13.4],[1.369,12.5],[1.375,12.35],[1.383,12.6],[1.389,12.15],[1.395,12.25],[1.363,11.95],[1.369,11.6],[1.375,11.6],[1.381,11.45],[1.387,11.2],[1.393,11.1],[1.358,11.1],[1.364,10.85],[1.37,10.6],[1.376,10.55],[1.382,10.4],[1.388,10.35],[1.35,10.25],[1.356,10.05],[1.362,9.95],[1.368,9.8],[1.374,10.0],[1.38,9.7],[1.386,9.6],[1.392,9.85],[1.346,9.5],[1.352,9.35],[1.358,9.25],[1.364,9.2],[1.37,9.05],[1.376,9.0],[1.382,8.95],[1.388,9.25],[1.343,8.7],[1.35,8.4],[1.356,8.65],[1.362,8.7],[1.368,8.6],[1.374,8.5],[1.38,8.6],[1.346,7.95],[1.352,7.75],[1.358,7.6],[1.364,7.8],[1.37,7.85],[1.376,7.75],[1.343,7.2],[1.349,6.95],[1.355,7.1],[1.361,7.05],[1.367,6.75],[1.372,7.2],[1.339,6.6],[1.345,6.45],[1.351,6.55],[1.357,6.4],[1.346,6.05],
  [1.448,16.6],[1.454,16.75],[1.46,16.4],[1.465,16.5],[1.47,16.35],[1.475,16.6],[1.48,16.25],[1.484,16.35],[1.446,16.1],[1.451,16.25],[1.456,15.95],[1.461,16.1],[1.466,15.8],[1.471,16.05],[1.476,15.85],[1.481,15.95],[1.486,15.65],[1.449,15.65],[1.454,15.5],[1.459,15.75],[1.464,15.55],[1.469,15.7],[1.474,15.4],[1.479,15.55],[1.484,15.4],[1.489,15.35],[1.452,15.2],[1.462,15.15],[1.472,14.95],[1.482,15.05],[1.492,15.15],[1.477,14.45],[1.487,14.5],[1.47,13.95],[1.481,13.75],[1.49,13.25],[1.466,13.05],[1.478,12.55],[1.486,12.25],[1.472,11.85],[1.483,11.2],[1.492,11.8],[1.476,10.2],[1.489,10.25],
  [1.405,6.9],[1.41,6.6],[1.414,6.85],[1.418,6.45],[1.422,6.7],[1.426,6.35],[1.43,6.55],[1.408,6.05],[1.412,5.85],[1.416,6.05],[1.42,5.75],[1.424,5.95],[1.428,5.65],[1.412,5.35],[1.416,5.15],[1.42,5.35],[1.424,5.0],[1.428,5.2],[1.418,4.85],[1.425,4.35]];

const seriesData = [
  blueUpper.concat(blueMiddle, blueLower, blueCoreExtra),
  redUpper.concat(redMiddle, redLower, redCoreExtra),
  orangeWest.concat(orangeCore, orangeSouth, orangeCoreExtra),
  greenWest.concat(greenEast, greenSouthEast, greenWestColumn, greenEastColumn, greenSouth, greenCoreExtra)
];
const seriesColors = ['blue', 'red', 'orange', 'green'];

const chart = echarts.init(document.getElementById('chart'), null, { renderer: 'canvas' });

const font = 'DejaVu Sans';
const axisCommon = {
  type: 'value',
  axisLine: { show: true, onZero: false, lineStyle: { color: '#000', width: 1 } },
  axisTick: { show: true, inside: false, length: 5, lineStyle: { color: '#000', width: 1 } },
  axisLabel: { color: '#000', fontSize: 13.9, fontFamily: font, margin: 10, formatter: v => v.toFixed(1) },
  splitLine: { show: false },
  nameTextStyle: { color: '#000', fontSize: 13.9, fontFamily: font }
};

chart.setOption({
  animation: false,
  backgroundColor: '#fff',
  title: {
    text: "a-i relation of Eros's orbital evolution with 10 clones",
    left: 508,
    top: 94,
    textAlign: 'center',
    textStyle: { color: '#000', fontSize: 16.7, fontWeight: 'normal', fontFamily: font }
  },
  grid: { left: 125, right: 100, top: 121, bottom: 111, show: true, borderColor: '#000', borderWidth: 1, containLabel: false },
  legend: {
    orient: 'vertical',
    left: 771,
    top: 128,
    padding: [5, 7, 5, 18],
    itemGap: 7,
    itemWidth: 36,
    itemHeight: 3,
    icon: 'circle',
    backgroundColor: 'rgba(255,255,255,0.8)',
    borderColor: '#cccccc',
    borderWidth: 1,
    borderRadius: 3,
    textStyle: { color: '#000', fontSize: 13.9, fontFamily: font, lineHeight: 14 },
    data: seriesNames
  },
  xAxis: Object.assign({}, axisCommon, {
    min: 1.074, max: 1.747,
    name: 'a (AU)', nameLocation: 'middle', nameGap: 31,
    axisTick: Object.assign({}, axisCommon.axisTick, { customValues: xTicks }),
    axisLabel: Object.assign({}, axisCommon.axisLabel, { customValues: xTicks })
  }),
  yAxis: Object.assign({}, axisCommon, {
    min: -0.781, max: 17.964,
    name: 'i (deg)', nameLocation: 'middle', nameGap: 42, nameRotate: 90,
    axisTick: Object.assign({}, axisCommon.axisTick, { customValues: yTicks }),
    axisLabel: Object.assign({}, axisCommon.axisLabel, { customValues: yTicks })
  }),
  series: seriesData.map((d, k) => ({
    name: seriesNames[k],
    type: 'scatter',
    data: d,
    symbol: 'circle',
    symbolSize: 3.8,
    itemStyle: { color: seriesColors[k], opacity: 1 },
    emphasis: { disabled: true },
    silent: true
  }))
});
</script>
</body>
</html>
